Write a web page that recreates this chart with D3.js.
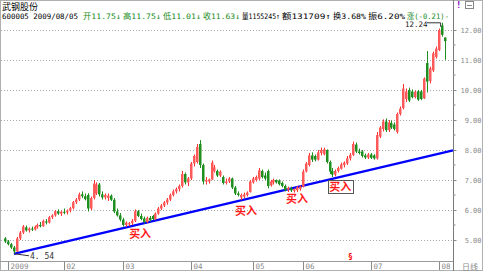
<!DOCTYPE html>
<html>
<head>
<meta charset="utf-8">
<script src="https://cdn.jsdelivr.net/npm/d3@7"></script>
<style>
  body { margin: 0; background: #fff; }
  svg { display: block; }
</style>
</head>
<body>
<svg></svg>
<script>
// header info
let stockName = '武钢股份';
let stockCode = '600005';
let quoteDate = '2009/08/05';
// quote fields shown in the header: text, x position, colour key
let quoteText = ['开11.75↓', '高11.75↓', '低11.01↓', '收11.63↓', '量1155245↑', '额131709↑', '换3.68%', '振6.20%', '涨(-0.21)-'];
let quoteX = [83, 123, 163, 203, 242, 282, 333, 368, 407, 451];
let quoteDown = [true, true, true, true, false, false, false, false, true];

// daily candles [open, high, low, close], one small array per month
let dec08 = [
  [5.05, 5.10, 4.90, 4.95], [4.95, 5.00, 4.82, 4.86], [4.86, 4.90, 4.70, 4.75],
  [4.75, 4.80, 4.54, 4.62], [4.62, 5.10, 4.60, 5.05]
];
let jan09 = [
  [5.05, 5.30, 5.00, 5.25], [5.25, 5.50, 5.20, 5.45], [5.42, 5.48, 5.28, 5.32],
  [5.32, 5.42, 5.25, 5.38], [5.38, 5.45, 5.30, 5.35], [5.35, 5.48, 5.32, 5.44],
  [5.44, 5.55, 5.38, 5.50], [5.50, 5.60, 5.42, 5.46], [5.46, 5.68, 5.44, 5.64],
  [5.62, 5.70, 5.52, 5.58], [5.58, 5.80, 5.55, 5.76], [5.76, 5.86, 5.70, 5.82],
  [5.82, 6.00, 5.78, 5.96], [5.96, 6.02, 5.84, 5.88], [5.88, 5.98, 5.80, 5.94]
];
let feb09 = [
  [5.94, 6.05, 5.86, 5.92], [5.92, 6.02, 5.85, 5.98], [5.98, 6.10, 5.92, 6.06],
  [6.06, 6.30, 6.02, 6.26], [6.26, 6.40, 6.20, 6.35], [6.35, 6.58, 6.30, 6.52],
  [6.52, 6.62, 6.40, 6.46], [6.46, 6.55, 6.32, 6.36], [6.50, 6.56, 5.95, 6.05],
  [6.05, 6.45, 6.00, 6.40], [6.40, 7.00, 6.35, 6.88], [6.55, 6.92, 6.50, 6.85],
  [6.85, 6.90, 6.45, 6.52], [6.52, 6.62, 6.35, 6.42], [6.42, 6.55, 6.35, 6.50],
  [6.40, 6.55, 6.30, 6.48], [6.48, 6.52, 6.30, 6.34], [6.34, 6.40, 5.90, 5.95],
  [5.95, 6.05, 5.78, 5.82], [5.82, 5.90, 5.62, 5.68]
];
let mar09 = [
  [5.68, 5.74, 5.45, 5.50], [5.50, 5.62, 5.44, 5.58], [5.52, 5.60, 5.46, 5.56],
  [5.56, 5.70, 5.50, 5.64], [5.64, 6.02, 5.60, 5.96], [5.96, 6.00, 5.76, 5.80],
  [5.80, 5.88, 5.66, 5.70], [5.72, 5.78, 5.55, 5.60], [5.60, 5.78, 5.56, 5.74],
  [5.74, 5.80, 5.62, 5.66], [5.80, 5.84, 5.66, 5.70], [5.70, 5.92, 5.66, 5.88],
  [5.88, 6.10, 5.84, 6.05], [6.05, 6.20, 6.00, 6.15], [6.15, 6.30, 6.10, 6.25],
  [6.25, 6.40, 6.18, 6.35], [6.35, 6.55, 6.30, 6.50], [6.50, 6.68, 6.45, 6.62],
  [6.62, 6.75, 6.55, 6.70], [6.70, 6.85, 6.62, 6.80], [6.80, 7.30, 6.75, 7.20],
  [7.20, 7.25, 6.85, 6.92]
];
let apr09 = [
  [6.92, 7.10, 6.80, 7.05], [7.05, 7.60, 7.00, 7.55], [7.55, 7.85, 7.45, 7.80],
  [7.60, 8.20, 7.55, 8.10], [8.20, 8.33, 7.40, 7.50], [7.50, 7.55, 6.85, 6.95],
  [6.95, 7.10, 6.85, 7.00], [6.95, 7.05, 6.88, 7.02], [7.02, 7.65, 7.00, 7.58],
  [7.30, 7.50, 7.25, 7.42], [7.30, 7.35, 7.10, 7.15], [7.15, 7.32, 7.10, 7.28],
  [7.10, 7.15, 6.85, 6.90], [6.90, 7.05, 6.85, 6.95], [6.95, 7.10, 6.90, 7.05],
  [7.05, 7.08, 6.70, 6.75], [6.75, 6.80, 6.50, 6.55], [6.55, 6.62, 6.45, 6.50],
  [6.42, 6.55, 6.33, 6.50], [6.45, 6.58, 6.40, 6.52], [6.50, 6.62, 6.45, 6.58]
];
let may09 = [
  [6.60, 7.00, 6.58, 6.95], [6.92, 7.10, 6.88, 7.05], [7.00, 7.15, 6.95, 7.10],
  [7.05, 7.40, 7.00, 7.32], [7.30, 7.35, 7.05, 7.10], [7.15, 7.25, 7.00, 7.05],
  [7.30, 7.35, 6.72, 6.80], [6.82, 7.00, 6.78, 6.95], [6.92, 7.05, 6.85, 7.00],
  [7.00, 7.02, 6.88, 6.92], [6.98, 7.02, 6.82, 6.86], [6.90, 6.95, 6.75, 6.80],
  [6.80, 6.85, 6.62, 6.66], [6.68, 6.78, 6.60, 6.74], [6.72, 6.78, 6.60, 6.65],
  [6.64, 6.72, 6.58, 6.70], [6.66, 6.80, 6.60, 6.76], [6.70, 6.82, 6.64, 6.78],
  [6.78, 7.35, 6.75, 7.28]
];
let jun09 = [
  [7.28, 7.60, 7.25, 7.55], [7.50, 7.90, 7.45, 7.82], [7.82, 7.92, 7.60, 7.68],
  [7.80, 7.85, 7.62, 7.68], [7.68, 8.00, 7.65, 7.92], [7.90, 8.08, 7.82, 8.00],
  [7.86, 8.08, 7.82, 8.02], [8.00, 8.02, 7.55, 7.60], [7.60, 7.65, 7.20, 7.28],
  [7.30, 7.40, 7.10, 7.18], [7.18, 7.35, 7.12, 7.30], [7.30, 7.45, 7.25, 7.40],
  [7.38, 7.58, 7.35, 7.52], [7.50, 7.62, 7.42, 7.58], [7.55, 7.80, 7.50, 7.72],
  [7.72, 7.90, 7.65, 7.84], [7.84, 8.28, 7.80, 8.20], [8.18, 8.25, 7.90, 7.95],
  [7.95, 8.05, 7.85, 7.90], [7.95, 8.00, 7.75, 7.80], [7.82, 7.88, 7.70, 7.75],
  [7.75, 7.90, 7.70, 7.85]
];
let jul09 = [
  [7.85, 7.90, 7.70, 7.74], [7.82, 7.86, 7.68, 7.72], [7.72, 8.60, 7.68, 8.50],
  [8.45, 8.80, 8.40, 8.75], [8.70, 9.02, 8.62, 8.95], [8.95, 9.05, 8.60, 8.66],
  [8.66, 9.00, 8.60, 8.92], [8.90, 8.98, 8.70, 8.75], [8.85, 8.92, 8.65, 8.70],
  [8.60, 9.25, 8.55, 9.20], [9.20, 9.45, 9.15, 9.38], [9.40, 10.20, 9.35, 10.05],
  [9.70, 10.05, 9.60, 9.95], [10.00, 10.08, 9.60, 9.65], [9.95, 10.02, 9.72, 9.76],
  [9.76, 9.98, 9.72, 9.94], [9.96, 10.00, 9.64, 9.68], [9.95, 10.00, 9.66, 9.70],
  [9.72, 10.42, 9.70, 10.38], [10.90, 11.30, 9.92, 10.28], [10.30, 10.78, 10.22, 10.72],
  [10.65, 11.28, 10.60, 11.22], [11.10, 11.45, 11.05, 11.38]
];
let aug09 = [
  [11.33, 12.05, 11.30, 12.00], [12.15, 12.24, 11.78, 11.84], [11.75, 11.75, 11.01, 11.63]
];

// x-axis month labels and the candle index they sit at
let monthLabels = ['2009', '02', '03', '04', '05', '06', '07', '08'];
let monthIdx = [1, 20, 40, 63, 84, 101, 124, 147];
// right axis price ticks
let priceTicks = [5, 6, 7, 8, 9, 10, 11, 12];

// support trendline: start at the 4.54 low, through a second point
let trendStart = [3, 4.54];
let trendThrough = [149, 7.92];

// "buy" annotations: candle index, price, boxed?
let buyIdx = [45.8, 81.7, 99, 113.6];
let buyPrice = [5.23, 6.0, 6.4, 6.77];
let buyBoxed = [false, false, false, true];

// high / low callouts
let lowMark = [3, 4.54, '4. 54'];
let highMark = [148, 12.24, '12.24'];

let candles = [].concat(dec08, jan09, feb09, mar09, apr09, may09, jun09, jul09, aug09);

let config = {svg: {width: 483, height: 271}, plot: {}};
config.plot.left = 0;
config.plot.right = 453;
config.plot.bottom = 261;

let svg = d3.select('svg')
  .attr('width', config.svg.width)
  .attr('height', config.svg.height)
  .style('font-family', "'DejaVu Sans Mono','Noto Sans CJK SC',monospace");

let x = d3.scaleLinear().domain([0, candles.length - 1]).range([5, 444.6]);
let y = d3.scaleLinear().domain([5, 12]).range([240, 30]);

let red = '#ff3030', green = '#1f8f1f', axisGray = '#8a8a8a';

// frame
svg.append('rect').attr('x', 0.5).attr('y', 0.5)
  .attr('width', config.svg.width - 1).attr('height', config.svg.height - 1)
  .attr('fill', 'none').attr('stroke', '#b0b0b0');

// dotted price gridlines
svg.append('g').selectAll('line').data(priceTicks).enter().append('line')
  .attr('x1', 1).attr('x2', config.plot.right)
  .attr('y1', d => Math.round(y(d)) + 0.5).attr('y2', d => Math.round(y(d)) + 0.5)
  .attr('stroke', '#a8a8a8').attr('stroke-dasharray', '1,2');

// right axis
let yAxis = d3.axisRight(y).tickValues(priceTicks).tickSize(3)
  .tickFormat(d3.format('.2f'));
let gy = svg.append('g').attr('transform', translate(config.plot.right + 0.5, 0)).call(yAxis);
gy.select('.domain').remove();
gy.selectAll('line').attr('stroke', axisGray);
gy.selectAll('text').attr('x', 481 - config.plot.right).attr('text-anchor', 'end')
  .attr('fill', axisGray).style('font-size', '7px')
  .style('font-family', "'DejaVu Sans Mono',monospace");
svg.append('line').attr('x1', config.plot.right + 0.5).attr('x2', config.plot.right + 0.5)
  .attr('y1', 0).attr('y2', config.svg.height).attr('stroke', '#7a7a7a');
// minor ticks
svg.append('g').selectAll('line').data(d3.range(5.5, 12, 1)).enter().append('line')
  .attr('x1', config.plot.right).attr('x2', config.plot.right + 2.5)
  .attr('y1', d => y(d)).attr('y2', d => y(d)).attr('stroke', axisGray);

// bottom axis
svg.append('line').attr('x1', 0).attr('x2', config.plot.right)
  .attr('y1', config.plot.bottom + 0.5).attr('y2', config.plot.bottom + 0.5).attr('stroke', '#9a9a9a');
let gx = svg.append('g');
monthLabels.forEach(function(lab, k) {
  let px = Math.round(x(monthIdx[k])) + 0.5;
  gx.append('line').attr('x1', px).attr('x2', px).attr('y1', 262).attr('y2', 270)
    .attr('stroke', axisGray);
  gx.append('text').attr('x', px + 2).attr('y', 269).text(lab)
    .attr('fill', axisGray).style('font-size', '7.5px');
});
svg.append('text').attr('x', 462).attr('y', 269.5).text('日线')
  .attr('fill', axisGray).style('font-size', '8px').style('font-family', "'Noto Sans CJK SC'");

// trendline, extended to the right axis
let slope = (trendThrough[1] - trendStart[1]) / (trendThrough[0] - trendStart[0]);
let endIdx = x.invert(config.plot.right);
svg.append('line')
  .attr('x1', x(trendStart[0])).attr('y1', y(trendStart[1]))
  .attr('x2', x(endIdx)).attr('y2', y(trendStart[1] + slope * (endIdx - trendStart[0])))
  .attr('stroke', '#0000ff').attr('stroke-width', 2.4);

// candles
let gc = svg.append('g');
candles.forEach(function(c, i) {
  let up = c[3] >= c[0];
  let col = up ? red : green;
  let cx = Math.round(x(i)) + 0.5;
  gc.append('line').attr('x1', cx).attr('x2', cx)
    .attr('y1', y(c[1])).attr('y2', y(c[2])).attr('stroke', col);
  let top = y(Math.max(c[0], c[3]));
  let h = Math.max(1, y(Math.min(c[0], c[3])) - top);
  gc.append('rect').attr('x', cx - 1.5).attr('width', 2.5)
    .attr('y', top).attr('height', h)
    .attr('fill', up ? '#ff5a5a' : green);
});

// low / high callouts
svg.append('line').attr('x1', x(lowMark[0]) + 1).attr('y1', y(lowMark[1]))
  .attr('x2', 29).attr('y2', y(lowMark[1]) + 2).attr('stroke', '#333');
svg.append('text').attr('x', 30).attr('y', y(lowMark[1]) + 5).text(lowMark[2])
  .attr('fill', '#333').style('font-size', '8px');
svg.append('polyline')
  .attr('points', [[427, y(highMark[1])], [x(highMark[0]) - 1, y(highMark[1])], [x(highMark[0]) - 1, y(highMark[1]) + 4]].join(' '))
  .attr('fill', 'none').attr('stroke', '#333');
svg.append('text').attr('x', 405).attr('y', y(highMark[1]) + 4.2).text(highMark[2])
  .attr('fill', '#222').style('font-size', '7.5px');

// buy annotations
buyIdx.forEach(function(bi, k) {
  let bx = x(bi), by = y(buyPrice[k]);
  if (buyBoxed[k]) {
    svg.append('rect').attr('x', Math.round(bx - 12.5) + 0.5).attr('y', Math.round(by - 6.5) + 0.5)
      .attr('width', 25).attr('height', 13).attr('fill', '#fff')
      .attr('stroke', '#555');
  }
  svg.append('text').attr('x', bx).attr('y', by + 4.5).text('买入')
    .attr('text-anchor', 'middle').attr('fill', '#ff1a1a')
    .style('font-size', '11px').style('font-family', "'Noto Sans CJK SC'").style('font-weight', 'bold');
});

// info mine marker
svg.append('text').attr('x', 348).attr('y', 260).text('§')
  .attr('fill', '#ff0000').style('font-size', '8px').style('font-weight', 'bold');

// header
svg.append('text').attr('x', 2).attr('y', 10).text(stockName)
  .attr('fill', '#000').style('font-size', '9px').style('font-family', "'Noto Sans CJK SC'");
svg.append('text').attr('x', 2).attr('y', 18.5).text(stockCode + ' ' + quoteDate)
  .attr('fill', '#000').style('font-size', '7.5px')
  .attr('textLength', 76).attr('lengthAdjust', 'spacingAndGlyphs');
quoteText.forEach(function(t, k) {
  svg.append('text').attr('x', quoteX[k]).attr('y', 18.5).text(t)
    .attr('fill', quoteDown[k] ? '#218a21' : '#000').style('font-size', '7.5px')
    .attr('textLength', quoteX[k + 1] - quoteX[k] - 2).attr('lengthAdjust', 'spacingAndGlyphs');
});
svg.append('text').attr('x', 456).attr('y', 8).text('!')
  .attr('fill', '#8000c0').style('font-size', '9px').style('font-weight', 'bold');
svg.append('rect').attr('x', 465.5).attr('y', 1.5).attr('width', 8).attr('height', 7)
  .attr('fill', '#fff').attr('stroke', '#888');
svg.append('line').attr('x1', 467).attr('x2', 472).attr('y1', 5.5).attr('y2', 5.5).attr('stroke', '#888');

function translate(x, y) {
  return 'translate(' + x + ',' + y + ')';
}
</script>
</body>
</html>
